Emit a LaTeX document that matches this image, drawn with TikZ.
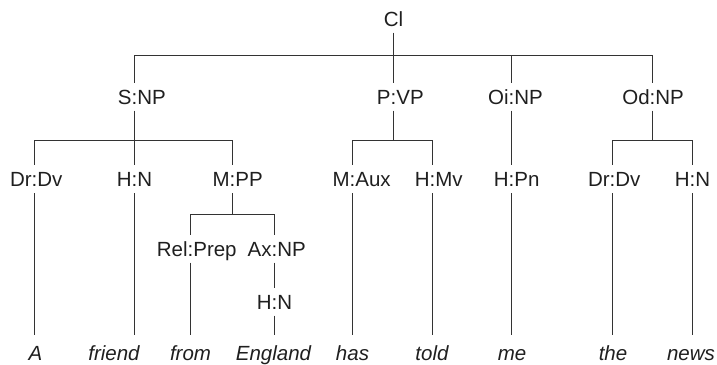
\documentclass[tikz,border=0pt]{standalone}
\usepackage{fontspec}
\setmainfont{Liberation Sans}
\newcommand\lab[2]{\makebox[0pt][r]{#1}:\makebox[0pt][l]{#2}}
\newcommand\wrd[1]{\itshape #1}
\begin{document}
\begin{tikzpicture}[x=0.5pt,y=-0.5pt,
  lbl/.style={font=\fontsize{10.25}{12}\selectfont, text=black!88, inner xsep=0pt, inner ysep=3.15pt, text height=7.35pt, text depth=0pt},
  word/.style={lbl, inner ysep=5.15pt},
  ln/.style={draw=black!80, line width=0.6pt}]
\useasboundingbox (0,0) rectangle (717,364);
% labels
\node[lbl] (cl) at (393.5,18.65) {Cl};
\node[lbl] (snp) at (134.5,96.65) {\lab{S}{NP}};
\node[lbl] (pvp) at (393.5,96.65) {\lab{P}{VP}};
\node[lbl] (oinp) at (511.5,96.65) {\lab{Oi}{NP}};
\node[lbl] (odnp) at (652.5,96.65) {\lab{Od}{NP}};
\node[lbl] (drdv1) at (34.5,179.35) {\lab{Dr}{Dv}};
\node[lbl] (hn1) at (134.5,179.35) {\lab{H}{N}};
\node[lbl] (mpp) at (232.5,179.35) {\lab{M}{PP}};
\node[lbl] (maux) at (352.5,179.35) {\lab{M}{Aux}};
\node[lbl] (hmv) at (432.5,179.35) {\lab{H}{Mv}};
\node[lbl] (hpn) at (511.5,179.35) {\lab{H}{Pn}};
\node[lbl] (drdv2) at (612.5,179.35) {\lab{Dr}{Dv}};
\node[lbl] (hn2) at (692.5,179.35) {\lab{H}{N}};
\node[lbl] (relprep) at (190.5,248.65) {\lab{Rel}{Prep}};
\node[lbl] (axnp) at (274.5,248.65) {\lab{Ax}{NP}};
\node[lbl] (hn3) at (274.5,301.65) {\lab{H}{N}};
% words
\node[word] (w1) at (35.5,353.35) {\wrd{A}};
\node[word] (w2) at (114,353.35) {\wrd{friend}};
\node[word] (w3) at (190.5,353.35) {\wrd{from}};
\node[word] (w4) at (273.5,353.35) {\wrd{England}};
\node[word] (w5) at (352.5,353.35) {\wrd{has}};
\node[word] (w6) at (432,353.35) {\wrd{told}};
\node[word] (w7) at (512,353.35) {\wrd{me}};
\node[word] (w8) at (613,353.35) {\wrd{the}};
\node[word] (w9) at (691,353.35) {\wrd{news}};
% junctions
\coordinate (j0) at (393.5,55.5);
\coordinate (j1) at (134.5,140.5);
\coordinate (j2) at (393.5,140.5);
\coordinate (j3) at (652.5,140.5);
\coordinate (j4) at (232.5,214.5);
% connectors
\draw[ln] (cl.south) -- (j0);
\foreach \n in {snp,pvp,oinp,odnp} \draw[ln] (j0) -| (\n.north);
\draw[ln] (snp.south) -- (j1);
\foreach \n in {drdv1,hn1,mpp} \draw[ln] (j1) -| (\n.north);
\draw[ln] (pvp.south) -- (j2);
\foreach \n in {maux,hmv} \draw[ln] (j2) -| (\n.north);
\draw[ln] (oinp.south) -- (hpn.north);
\draw[ln] (odnp.south) -- (j3);
\foreach \n in {drdv2,hn2} \draw[ln] (j3) -| (\n.north);
\draw[ln] (mpp.south) -- (j4);
\foreach \n in {relprep,axnp} \draw[ln] (j4) -| (\n.north);
\draw[ln] (axnp.south) -- (hn3.north);
\foreach \a/\b in {drdv1/w1,hn1/w2,relprep/w3,hn3/w4,maux/w5,hmv/w6,hpn/w7,drdv2/w8,hn2/w9}
  \draw[ln] (\a.south) -- (\a.south |- \b.north);
\end{tikzpicture}
\end{document}
